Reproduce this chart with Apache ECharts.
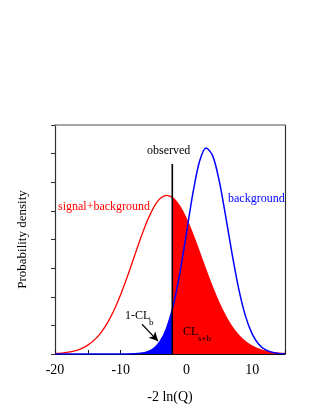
<!DOCTYPE html>
<html>
<head>
<meta charset="utf-8">
<script src="https://cdn.jsdelivr.net/npm/echarts@6/dist/echarts.min.js"></script>
<style>html,body{margin:0;padding:0;background:#fff}#c{width:316px;height:409px}</style>
</head>
<body>
<div id="c"></div>
<script>
// x grid of -2 ln(Q)
var xValues = [-20,-19,-18,-17,-16,-15,-14,-13,-12,-11,-10,-9,-8,-7,-6,-5,-4,-3,-2,-1,0,1,2,3,4,5,6,7,8,9,10,11,12,13,14,15];
// signal+background probability density (red)
var sbValues = [0.017,0.033,0.062,0.110,0.189,0.311,0.493,0.750,1.096,1.540,2.079,2.697,3.360,4.023,4.627,5.114,5.430,5.540,5.442,5.159,4.720,4.166,3.550,2.919,2.316,1.774,1.310,0.934,0.643,0.427,0.274,0.169,0.101,0.058,0.032,0.017];
// background-only probability density (blue)
var bValues = [0,0,0,0,0,0,0,0,0,0,0.0005,0.002,0.008,0.025,0.072,0.188,0.438,0.911,1.697,2.830,4.221,5.636,6.732,7.196,6.921,6.039,4.775,3.426,2.230,1.315,0.704,0.342,0.150,0.060,0.022,0.007];
// observed value and curve heights there
var observedX = -2.15;
var observedTop = 6.64;
var sbAtObserved = 5.469;
var bAtObserved = 1.557;
// arrow from label 1-CL_b toward blue tail
var arrowFrom = [-6.76, 1.04];
var arrowTo = [-4.32, 0.45];
var xTicks = {min: -20, max: 15, step: 5};
var yTicks = {min: 0, max: 8, step: 1};

var sbLine = xValues.map(function(x,i){return [x, sbValues[i]];});
var bLine = xValues.map(function(x,i){return [x, bValues[i]];});
var redFill = [[observedX, sbAtObserved]].concat(sbLine.filter(function(p){return p[0] > observedX;}));
var blueFill = bLine.filter(function(p){return p[0] < observedX;}).concat([[observedX, bAtObserved]]);

var FONT = 'Liberation Serif';
var chart = echarts.init(document.getElementById('c'), null, {renderer:'canvas'});
chart.setOption({
  animation: false,
  backgroundColor: '#fff',
  grid: {left: 55, right: 31, top: 125, bottom: 53},
  xAxis: [{
    type: 'value', min: xTicks.min, max: xTicks.max, interval: xTicks.step,
    axisLine: {onZero: false, lineStyle: {color: '#111', width: 1}},
    axisTick: {inside: true, length: 4, lineStyle: {color: '#111'}},
    splitLine: {show: false},
    axisLabel: {margin: 9, fontFamily: FONT, fontSize: 14, color: '#000',
      formatter: function(v){return v % 10 === 0 ? String(v) : '';}},
    name: '-2 ln(Q)', nameLocation: 'middle', nameGap: 36,
    nameTextStyle: {fontFamily: FONT, fontSize: 14, color: '#000'}
  }, {
    type: 'value', position: 'top', min: xTicks.min, max: xTicks.max,
    axisLine: {show: true, onZero: false, lineStyle: {color: '#888', width: 1.5}},
    axisTick: {show: false}, axisLabel: {show: false}, splitLine: {show: false}
  }],
  yAxis: [{
    type: 'value', min: yTicks.min, max: yTicks.max, interval: yTicks.step,
    axisLine: {show: true, onZero: false, lineStyle: {color: '#333', width: 1.2}},
    axisTick: {show: true, inside: false, length: 4, lineStyle: {color: '#333'}},
    axisLabel: {show: false}, splitLine: {show: false},
    name: 'Probability density', nameLocation: 'middle', nameGap: 26, nameRotate: 90,
    nameTextStyle: {fontFamily: FONT, fontSize: 13, color: '#000'}
  }, {
    type: 'value', position: 'right', min: yTicks.min, max: yTicks.max,
    axisLine: {show: true, onZero: false, lineStyle: {color: '#333', width: 1.2}},
    axisTick: {show: false}, axisLabel: {show: false}, splitLine: {show: false}
  }],
  series: [
    {type: 'line', data: blueFill, smooth: 0.3, symbol: 'none', lineStyle: {width: 0},
      areaStyle: {color: '#0000ff', opacity: 1}, z: 1},
    {type: 'line', data: redFill, smooth: 0.3, symbol: 'none', lineStyle: {width: 0},
      areaStyle: {color: '#ff0000', opacity: 1}, z: 1},
    {type: 'line', data: sbLine, smooth: 0.3, symbol: 'none', lineStyle: {color: '#ff0000', width: 1.3}, z: 3},
    {type: 'line', data: bLine, smooth: 0.3, symbol: 'none', lineStyle: {color: '#0000ff', width: 1.5}, z: 3},
    {type: 'line', data: [[observedX, 0], [observedX, observedTop]], symbol: 'none',
      lineStyle: {color: '#000', width: 1.6}, z: 4,
      markLine: {silent: true, symbolSize: [7, 9], label: {show: false},
        lineStyle: {color: '#000', width: 1.2, type: 'solid'},
        data: [[{coord: arrowFrom, symbol: 'none'}, {coord: arrowTo, symbol: 'arrow'}]]}}
  ],
  graphic: [
    {type: 'text', z: 100, left: 147, top: 145, style: {text: 'observed', font: '12px "Liberation Serif"', fill: '#000'}},
    {type: 'text', z: 100, left: 58, top: 201, style: {text: 'signal+background', font: '12px "Liberation Serif"', fill: '#ff0000'}},
    {type: 'text', z: 100, left: 228, top: 193, style: {text: 'background', font: '12px "Liberation Serif"', fill: '#0000ff'}},
    {type: 'text', z: 100, left: 125, top: 310, style: {text: '1-CL', font: '12px "Liberation Serif"', fill: '#000'}},
    {type: 'text', z: 100, left: 149, top: 318, style: {text: 'b', font: '9px "Liberation Serif"', fill: '#000'}},
    {type: 'text', z: 100, left: 183, top: 326, style: {text: 'CL', font: '12px "Liberation Serif"', fill: '#000'}},
    {type: 'text', z: 100, left: 198, top: 334, style: {text: 's+b', font: '9px "Liberation Serif"', fill: '#000'}}
  ]
});
</script>
</body>
</html>
